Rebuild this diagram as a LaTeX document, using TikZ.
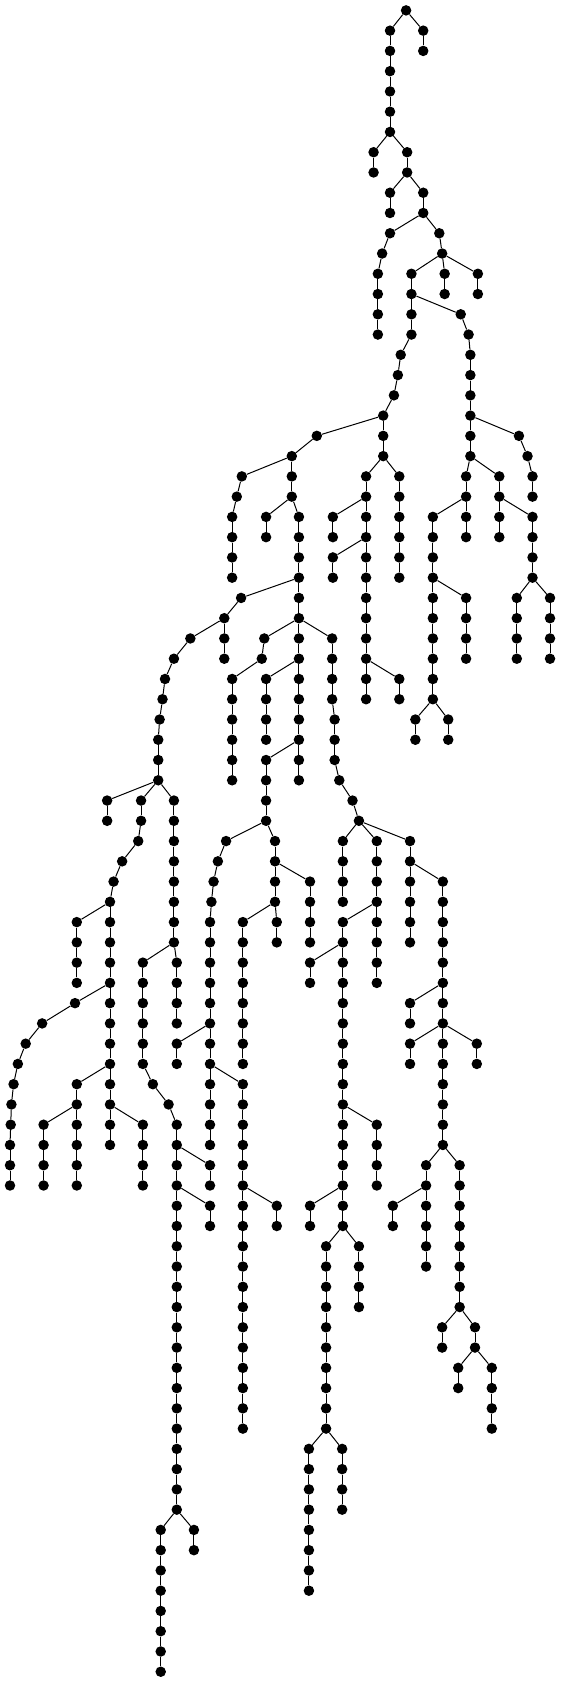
\documentclass[tikz,border=0pt]{standalone}
\begin{document}
\begin{tikzpicture}[x=0.357143pt,y=-20.26pt,
  v/.style={circle,fill=black,inner sep=0pt,minimum size=10.5pt},
  e/.style={line width=1pt,black}]
\useasboundingbox (0,0) rectangle (1568,83.02);
\node[v] (n0x1137) at (1137,0.513) {};
\foreach \L/\xs in {
1/{1092/1137,1185/1137},
2/{1092/1092,1185/1185},
3/{1092/1092},
4/{1092/1092},
5/{1092/1092},
6/{1092/1092},
7/{1046/1092,1140/1092},
8/{1046/1046,1140/1140},
9/{1092/1140,1185/1140},
10/{1092/1092,1185/1185},
11/{1092/1185,1230/1185},
12/{1070/1092,1238/1230},
13/{1058/1070,1152/1238,1245/1238,1338/1238},
14/{1058/1058,1152/1152,1245/1245,1338/1338},
15/{1058/1058,1152/1152,1290/1152},
16/{1058/1058,1152/1152,1312/1290},
17/{1122/1152,1317/1312},
18/{1114/1122,1317/1317},
19/{1103/1114,1317/1317},
20/{1073/1103,1317/1317},
21/{887/1073,1073/1073,1317/1317,1453/1317},
22/{817/887,1073/1073,1317/1317,1477/1453},
23/{677/817,817/817,1025/1073,1118/1073,1305/1317,1398/1317,1491/1477},
24/{663/677,817/817,1025/1025,1118/1118,1305/1305,1398/1398,1491/1491},
25/{650/663,745/817,837/817,932/1025,1025/1025,1118/1118,1212/1305,1305/1305,1398/1398,1491/1398},
26/{650/650,745/745,837/837,932/932,1025/1025,1118/1118,1212/1212,1305/1305,1398/1398,1491/1491},
27/{650/650,837/837,932/1025,1025/1025,1118/1118,1212/1212,1491/1491},
28/{650/650,837/837,932/932,1025/1025,1118/1118,1212/1212,1491/1491},
29/{675/837,837/837,1025/1025,1212/1212,1305/1212,1447/1491,1540/1491},
30/{628/675,837/837,1025/1025,1212/1212,1305/1305,1447/1447,1540/1540},
31/{533/628,628/628,740/837,837/837,930/837,1025/1025,1212/1212,1305/1305,1447/1447,1540/1540},
32/{487/533,628/628,733/740,837/837,930/930,1025/1025,1212/1212,1305/1305,1447/1447,1540/1540},
33/{462/487,650/733,745/837,837/837,930/930,1025/1025,1118/1025,1212/1212},
34/{455/462,650/650,745/745,837/837,930/930,1025/1025,1118/1118,1212/1212},
35/{447/455,650/650,745/745,837/837,937/930,1163/1212,1255/1212},
36/{443/447,650/650,745/745,837/837,937/937,1163/1163,1255/1255},
37/{443/443,650/650,745/837,837/837,937/937},
38/{443/443,650/650,745/745,837/837,950/937},
39/{300/443,395/443,487/443,745/745,987/950},
40/{300/300,395/395,487/487,745/745,1005/987},
41/{387/395,487/487,633/745,770/745,960/1005,1055/1005,1148/1005},
42/{342/387,487/487,610/633,770/770,960/960,1055/1055,1148/1148},
43/{318/342,487/487,598/610,770/770,868/770,960/960,1055/1055,1148/1148,1240/1148},
44/{308/318,487/487,592/598,770/770,868/868,960/960,1055/1055,1148/1148,1240/1240},
45/{215/308,308/308,487/487,588/592,680/770,775/770,868/868,960/1055,1055/1055,1148/1148,1240/1240},
46/{215/215,308/308,487/487,588/588,680/680,775/775,868/868,960/960,1055/1055,1148/1148,1240/1240},
47/{215/215,308/308,400/487,495/487,588/588,680/680,868/960,960/960,1055/1055,1240/1240},
48/{215/215,308/308,400/400,495/495,588/588,680/680,868/868,960/960,1055/1055,1240/1240},
49/{210/308,308/308,400/400,495/495,588/588,680/680,960/960,1148/1240,1240/1240},
50/{118/210,308/308,400/400,495/495,588/588,680/680,960/960,1148/1148,1240/1240},
51/{72/118,308/308,400/400,495/588,588/588,680/680,960/960,1148/1240,1240/1240,1335/1240},
52/{50/72,308/308,400/400,495/495,588/588,680/680,960/960,1148/1148,1240/1240,1335/1335},
53/{38/50,215/308,308/308,428/400,588/588,680/588,960/960,1240/1240},
54/{32/38,215/215,308/308,472/428,588/588,680/680,960/960,1240/1240},
55/{30/32,122/215,215/215,308/308,400/308,495/472,588/588,680/680,960/960,1055/960,1240/1240},
56/{28/30,122/122,215/215,308/308,400/400,495/495,588/588,680/680,960/960,1055/1055,1240/1240},
57/{28/28,122/122,215/215,400/400,495/495,588/495,680/680,960/960,1055/1055,1193/1240,1287/1240},
58/{28/28,122/122,215/215,400/400,495/495,588/588,680/680,960/960,1055/1055,1193/1193,1287/1287},
59/{495/495,588/495,680/680,775/680,868/960,960/960,1100/1193,1193/1193,1287/1287},
60/{495/495,588/588,680/680,775/775,868/868,960/960,1100/1100,1193/1193,1287/1287},
61/{495/495,680/680,913/960,1005/960,1193/1193,1287/1287},
62/{495/495,680/680,913/913,1005/1005,1193/1193,1287/1287},
63/{495/495,680/680,913/913,1005/1005,1287/1287},
64/{495/495,680/680,913/913,1005/1005,1287/1287},
65/{495/495,680/680,913/913,1238/1287,1330/1287},
66/{495/495,680/680,913/913,1238/1238,1330/1330},
67/{495/495,680/680,913/913,1283/1330,1377/1330},
68/{495/495,680/680,913/913,1283/1283,1377/1377},
69/{495/495,680/680,913/913,1377/1377},
70/{495/495,680/680,913/913,1377/1377},
71/{495/495,865/913,958/913},
72/{495/495,865/865,958/958},
73/{495/495,865/865,958/958},
74/{495/495,865/865,958/958},
75/{450/495,543/495,865/865},
76/{450/450,543/543,865/865},
77/{450/450,865/865},
78/{450/450,865/865},
79/{450/450},
80/{450/450},
81/{450/450},
82/{450/450}} {
  \pgfmathtruncatemacro\Lp{\L-1}
  \foreach \x/\p in \xs {
    \node[v] (n\L x\x) at (\x,\L+0.513) {};
    \draw[e] (n\Lp x\p) -- (n\L x\x);
  }
}
\end{tikzpicture}
\end{document}
